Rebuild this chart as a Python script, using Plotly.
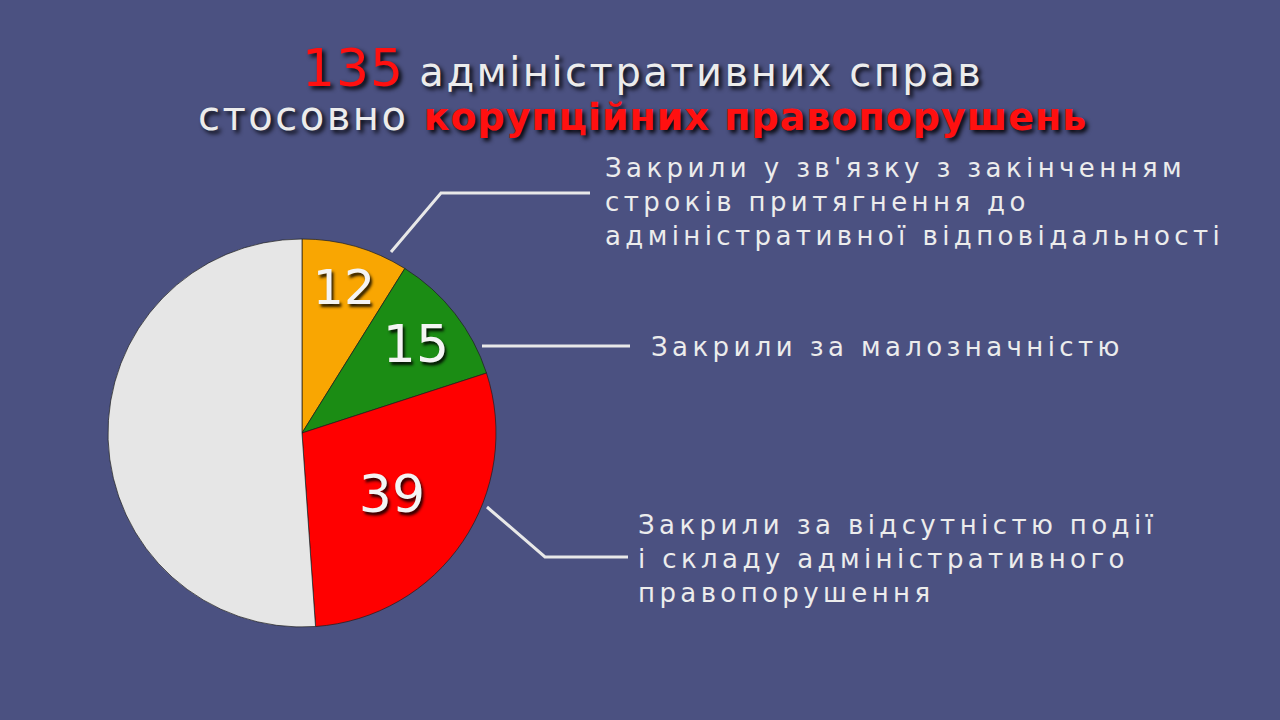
import plotly.graph_objects as go

W, H = 1280, 720

# data
total = 135
categories = ['Закінчення строків', 'Малозначність', 'Відсутність події', 'Інші']
values = [12, 15, 39, 69]
colors = ['#f9a602', '#1b8c14', '#ff0000', '#e6e6e6']
shown = ['12', '15', '39', '']

label1 = ["Закрили у зв'язку з закінченням",
          'строків притягнення до',
          'адміністративної відповідальності']
label2 = ['Закрили за малозначністю']
label3 = ['Закрили за відсутністю події',
          'і складу адміністративного',
          'правопорушення']

BG = '#4b5181'
TXT = '#ececec'
RED = '#ff1010'
FONT = 'DejaVu Sans'


def px(x):
    return x / W


def py(y):
    return 1 - y / H


fig = go.Figure()
fig.add_trace(go.Pie(
    labels=categories, values=values, text=shown,
    sort=False, direction='clockwise', rotation=0,
    marker=dict(colors=colors, line=dict(color='rgba(30,30,30,0.7)', width=1)),
    textinfo='text', textposition='inside', insidetextorientation='horizontal',
    textfont=dict(family=FONT, size=52, color='#f4f4f4',
                  shadow='2px 3px 3px rgba(0,0,0,0.85)'),
    domain=dict(x=[px(302 - 194), px(302 + 194)], y=[py(433 + 194), py(433 - 194)]),
    showlegend=False, hoverinfo='label+value',
))

# title (one block, two lines; base size sets the line spacing)
title_text = (
    '<span style="color:%s;font-size:52px;letter-spacing:1px">%d</span>'
    '<span style="font-size:40px;letter-spacing:2.5px"> адміністративних справ</span><br>'
    '<span style="font-size:40px;letter-spacing:2.5px">стосовно </span>'
    '<b><span style="color:%s;font-size:38px;letter-spacing:1px">корупційних правопорушень</span></b>'
) % (RED, total, RED)

ann = [dict(
    x=px(642), y=py(88), xref='paper', yref='paper', showarrow=False,
    xanchor='center', yanchor='middle', align='center',
    text=title_text,
    font=dict(family=FONT, size=34, color=TXT, shadow='3px 3px 4px rgba(0,0,0,0.9)'),
)]


def add_label(lines, x0, y0, step=34):
    for i, t in enumerate(lines):
        ann.append(dict(
            x=px(x0), y=py(y0 + i * step), xref='paper', yref='paper',
            xanchor='left', yanchor='middle', showarrow=False,
            text='<span style="letter-spacing:4.4px">%s</span>' % t,
            font=dict(family=FONT, size=26, color=TXT),
        ))


add_label(label1, 603, 168)
add_label(label2, 649, 347)
add_label(label3, 636, 525)

# leader lines
line_style = dict(color='#e8e8e8', width=3)
shapes = [
    dict(type='path', xref='paper', yref='paper',
         path='M %f %f L %f %f L %f %f' % (px(391), py(252), px(441), py(193), px(590), py(193)),
         line=line_style),
    dict(type='line', xref='paper', yref='paper',
         x0=px(482), y0=py(346), x1=px(630), y1=py(346), line=line_style),
    dict(type='path', xref='paper', yref='paper',
         path='M %f %f L %f %f L %f %f' % (px(487), py(507), px(545), py(557), px(628), py(557)),
         line=line_style),
]

fig.update_layout(
    width=W, height=H,
    margin=dict(l=0, r=0, t=0, b=0),
    paper_bgcolor=BG, plot_bgcolor=BG,
    annotations=ann, shapes=shapes,
)

fig.write_html('out.html', config={'displayModeBar': False},
               post_script="document.body.style.margin='0';document.body.style.background='%s';" % BG)
